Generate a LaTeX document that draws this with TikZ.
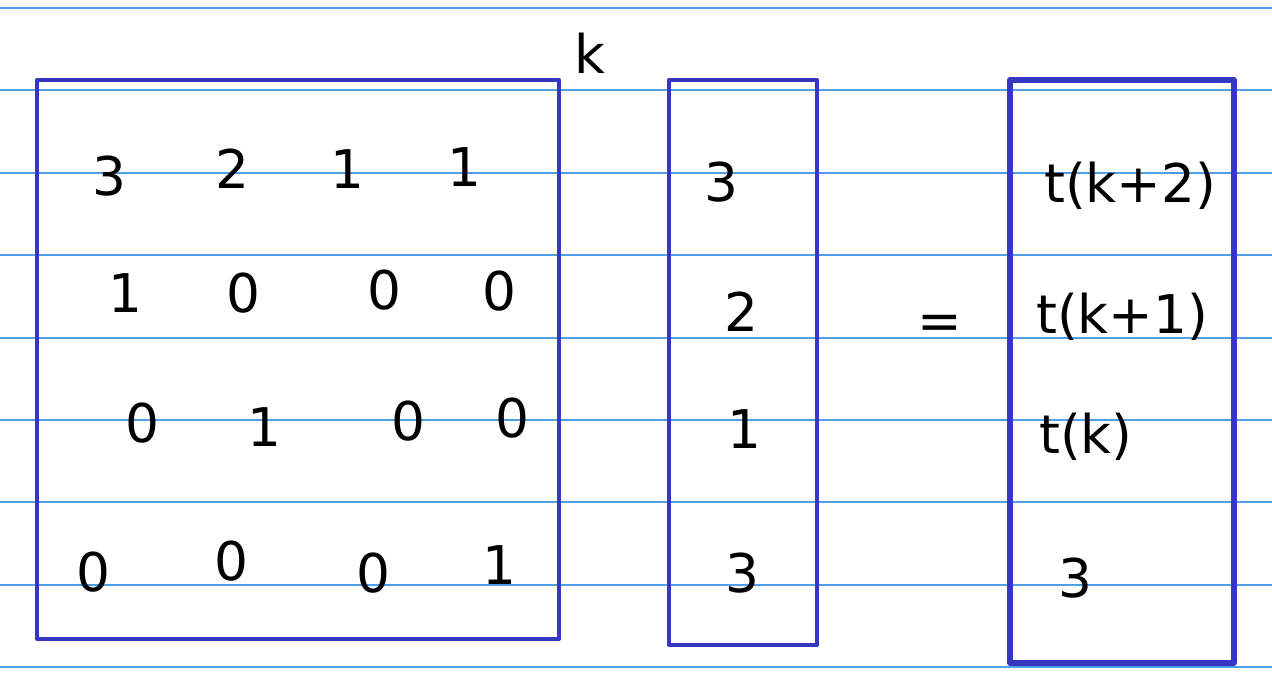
\documentclass[tikz,border=0pt]{standalone}
\usepackage{fontspec}
\setmainfont{DejaVu Sans}
\usepackage{xcolor}
\definecolor{ruleblue}{RGB}{80,158,230}
\definecolor{boxblue}{RGB}{54,54,192}
\tikzset{
  entry/.style={inner sep=0.75pt, font=\fontsize{40}{48}\selectfont},
  rule/.style={color=ruleblue, line width=1.5},
  frame/.style={color=boxblue, line width=3, line join=round}
}
\begin{document}
\begin{tikzpicture}[x=0.75pt,y=0.75pt,yscale=-1,xscale=1]
    \useasboundingbox (0,0) rectangle (1272,689);

        % ruled paper
        \foreach \y in {8,90.4,172.8,255.2,337.6,420,502.4,584.8,667.2}
            \draw [rule] (0,\y) -- (1272,\y) ;

        % brackets
        \draw [frame]  (37,80) -- (559,80) -- (559,639) -- (37,639) -- cycle ;
        \draw [frame]  (669,80) -- (817,80) -- (817,645) -- (669,645) -- cycle ;
        \draw [frame, line width=3.8]  (1010,80) -- (1234,80) -- (1234,663) -- (1010,663) -- cycle ;

        % matrix
        \node [entry] (m11) at (109,176) {3};
        \node [entry] (m12) at (232,169) {2};
        \node [entry] (m13) at (347,169) {1};
        \node [entry] (m14) at (464,167) {1};
        \node [entry] (m21) at (125,293) {1};
        \node [entry] (m22) at (243,293) {0};
        \node [entry] (m23) at (384,290) {0};
        \node [entry] (m24) at (499,291) {0};
        \node [entry] (m31) at (142,423) {0};
        \node [entry] (m32) at (264,427) {1};
        \node [entry] (m33) at (408,421) {0};
        \node [entry] (m34) at (512,418) {0};
        \node [entry] (m41) at (93,572) {0};
        \node [entry] (m42) at (231,561) {0};
        \node [entry] (m43) at (373,573) {0};
        \node [entry] (m44) at (499,565) {1};
        \node [entry] (kexp) at (590,53) {k};

        % vector
        \node [entry] (v1) at (721,182) {3};
        \node [entry] (v2) at (741,312) {2};
        \node [entry] (v3) at (744,429) {1};
        \node [entry] (v4) at (742,573) {3};

        \node [entry] (eq) at (940,327) {=};

        % result
        \node [entry, anchor=west] (t1) at (1043,186) {t(k+2)};
        \node [entry, anchor=west] (t2) at (1035,317) {t(k+1)};
        \node [entry, anchor=west] (t3) at (1038,437) {t(k)};
        \node [entry] (t4) at (1075,578) {3};
    \end{tikzpicture}
\end{document}
